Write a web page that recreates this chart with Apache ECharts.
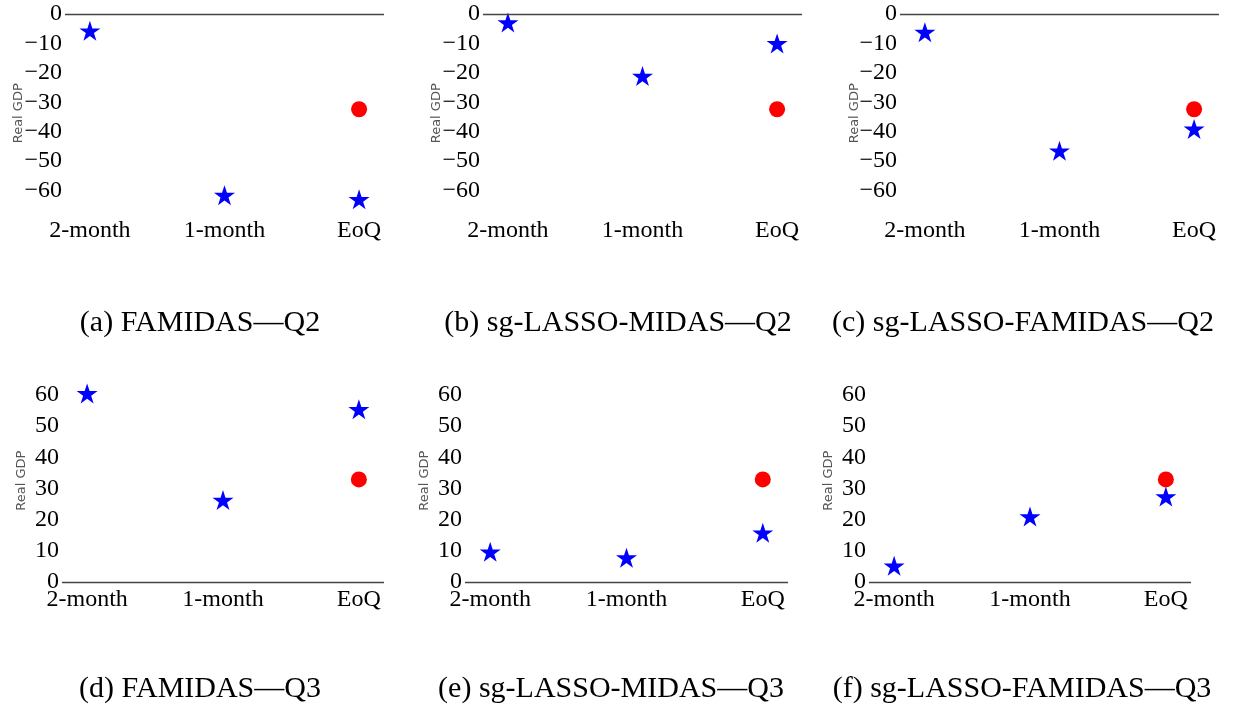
<!doctype html>
<html>
<head>
<meta charset="UTF-8">
<title>Real GDP nowcasts</title>
<script src="https://cdn.jsdelivr.net/npm/echarts@6.0.0/dist/echarts.min.js"></script>
<style>
  html, body { margin: 0; padding: 0; background: #fff; }
  #main { width: 1239px; height: 713px; }
</style>
</head>
<body>
<div id="main"></div>
<script>
// horizons on the x axis
const categories = ['2-month', '1-month', 'EoQ'];

// nowcasts (blue stars), one value per horizon
const famidasQ2   = [-5.7, -61.6, -63.0];
const sgMidasQ2   = [-2.9, -21.1, -10.0];
const sgFamidasQ2 = [-6.2, -46.5, -39.1];
const famidasQ3   = [60.5, 26.3, 55.4];
const sgMidasQ3   = [9.7, 7.8, 15.8];
const sgFamidasQ3 = [5.2, 21.0, 27.4];

// realised GDP (red dot), shown at EoQ
const actualQ2 = -32.4;
const actualQ3 = 32.9;

const yTicksQ2 = [0, -10, -20, -30, -40, -50, -60];
const yTicksQ3 = [0, 10, 20, 30, 40, 50, 60];

const captions = [
  '(a) FAMIDAS\u2014Q2', '(b) sg-LASSO-MIDAS\u2014Q2', '(c) sg-LASSO-FAMIDAS\u2014Q2',
  '(d) FAMIDAS\u2014Q3', '(e) sg-LASSO-MIDAS\u2014Q3', '(f) sg-LASSO-FAMIDAS\u2014Q3'
];

const panels = [
  { stars: famidasQ2,   actual: actualQ2, ticks: yTicksQ2, min: -67.5, max: 0,
    grid: { left: 65,  top: 14, width: 319, height: 198.5 }, gap: 39.5, cap: [200, 323] },
  { stars: sgMidasQ2,   actual: actualQ2, ticks: yTicksQ2, min: -67.5, max: 0,
    grid: { left: 483, top: 14, width: 319, height: 198.5 }, gap: 39.5, cap: [618, 323] },
  { stars: sgFamidasQ2, actual: actualQ2, ticks: yTicksQ2, min: -67.5, max: 0,
    grid: { left: 900, top: 14, width: 319, height: 198.5 }, gap: 38.5, cap: [1023, 323] },
  { stars: famidasQ3,   actual: actualQ3, ticks: yTicksQ3, min: 0, max: 65,
    grid: { left: 62,  top: 379.4, width: 322, height: 202.6 }, gap: 33.5, cap: [200, 689] },
  { stars: sgMidasQ3,   actual: actualQ3, ticks: yTicksQ3, min: 0, max: 65,
    grid: { left: 465, top: 379.4, width: 323, height: 202.6 }, gap: 33.5, cap: [611, 689] },
  { stars: sgFamidasQ3, actual: actualQ3, ticks: yTicksQ3, min: 0, max: 65,
    grid: { left: 869, top: 379.4, width: 322, height: 202.6 }, gap: 33.5, cap: [1022, 689] }
];

const starPath = 'path://M50 0 L61.23 34.55 L97.55 34.55 L68.17 55.9 L79.39 90.45 L50 69.1 L20.61 90.45 L31.83 55.9 L2.45 34.55 L38.77 34.55 Z';
const serif = '"Liberation Serif", "Times New Roman", serif';

let grid = [], xAxis = [], yAxis = [], series = [], graphic = [];

panels.forEach(function (p, i) {
  grid.push(p.grid);
  xAxis.push({
    type: 'value', gridIndex: i, min: -0.185, max: 2.185,
    axisLine: { show: false }, axisTick: { show: false }, splitLine: { show: false },
    axisLabel: {
      customValues: [0, 1, 2], margin: 6,
      fontFamily: serif, fontSize: 24, color: '#000',
      formatter: function (v) { return categories[Math.round(v)]; }
    }
  });
  yAxis.push({
    type: 'value', gridIndex: i, min: p.min, max: p.max,
    name: 'Real GDP', nameLocation: 'middle', nameGap: p.gap, nameMoveOverlap: false,
    nameTextStyle: { fontFamily: '"DejaVu Sans", sans-serif', fontSize: 13, color: '#555' },
    axisLine: { show: false }, axisTick: { show: false }, splitLine: { show: false },
    axisLabel: {
      customValues: p.ticks, margin: 3,
      fontFamily: serif, fontSize: 24, color: '#000',
      formatter: function (v) { return String(v).replace('-', '\u2212'); }
    }
  });
  series.push({
    type: 'scatter', xAxisIndex: i, yAxisIndex: i,
    symbol: starPath, symbolSize: [21, 20],
    itemStyle: { color: '#0000ff', opacity: 1 },
    data: p.stars.map(function (v, k) { return [k, v]; }),
    markLine: {
      silent: true, symbol: 'none', label: { show: false },
      lineStyle: { color: '#444', width: 1.3, type: 'solid' },
      data: [{ yAxis: 0 }]
    }
  });
  series.push({
    type: 'scatter', xAxisIndex: i, yAxisIndex: i,
    symbol: 'circle', symbolSize: 16,
    itemStyle: { color: '#ff0000', opacity: 1 },
    data: [[categories.indexOf('EoQ'), p.actual]]
  });
  graphic.push({
    type: 'text', x: p.cap[0], y: p.cap[1],
    style: {
      text: captions[i], fontFamily: serif, fontSize: 30, fill: '#000',
      textAlign: 'center', textVerticalAlign: 'middle'
    }
  });
});

let myChart = echarts.init(document.getElementById('main'));
myChart.setOption({
  animation: false,
  grid: grid, xAxis: xAxis, yAxis: yAxis, series: series, graphic: graphic
});
</script>
</body>
</html>
